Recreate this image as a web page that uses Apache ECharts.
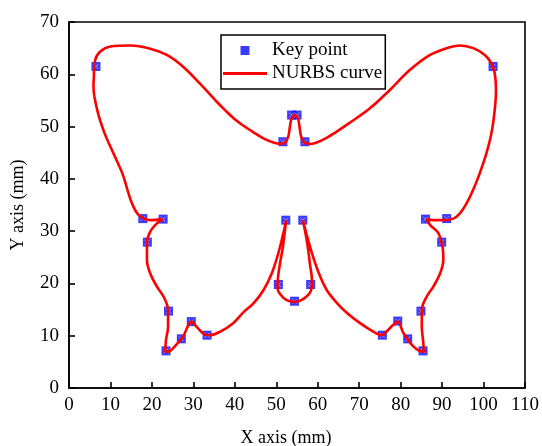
<!DOCTYPE html>
<html>
<head>
<meta charset="utf-8">
<script src="https://cdn.jsdelivr.net/npm/echarts@6/dist/echarts.min.js"></script>
<style>
html,body{margin:0;padding:0;background:#fff;}
#chart{width:542px;height:446px;}
</style>
</head>
<body>
<div id="chart"></div>
<script>
// Key points (mm)
const keyX = [6.5, 17.8, 22.7, 18.9, 24.0, 23.4, 27.1, 29.5, 33.3, 52.3, 50.5, 54.4, 58.3, 56.4, 75.6, 79.3, 81.7, 85.4, 84.9, 89.9, 86.0, 91.1, 102.3, 51.6, 53.7, 55.0, 56.9];
const keyY = [61.5, 32.4, 32.3, 27.9, 14.7, 7.1, 9.4, 12.7, 10.1, 32.1, 19.8, 16.6, 19.8, 32.1, 10.1, 12.8, 9.4, 7.1, 14.7, 27.9, 32.3, 32.4, 61.5, 47.1, 52.2, 52.2, 47.1];

// NURBS curve (mm)
const curveX = [6.0, 6.3, 7.5, 10.0, 14.8, 19.6, 23.6, 27.6, 31.6, 35.7, 37.7, 39.7, 42.0, 44.5, 47.0, 49.5, 51.0, 52.2, 52.9, 53.3, 53.7, 54.4, 55.2, 55.6, 56.0, 56.7, 58.3, 61.3, 64.3, 67.5, 72.6, 77.4, 82.2, 87.1, 91.1, 94.3, 97.5, 100.3, 101.9, 102.7, 103.0, 102.7, 101.9, 100.7, 99.1, 97.5, 95.9, 94.3, 92.7, 90.3, 87.9, 86.3,
  87.1, 89.1, 90.1, 90.3, 89.5, 87.9, 86.3, 85.1, 85.1, 85.4, 85.6, 84.5, 83.0, 81.7, 80.5, 79.3, 78.1, 76.6, 75.4, 73.4, 70.2, 67.0, 64.6, 62.2, 60.3, 58.6, 57.3, 56.4,
  56.9, 57.6, 58.1, 58.6, 58.4, 57.3, 55.7, 54.1, 52.5, 51.1, 50.3, 50.4, 50.9, 51.6, 52.1, 52.4,
  51.7, 50.5, 48.9, 46.9, 44.5, 42.1, 39.6, 36.5, 34.0, 32.6, 30.8, 29.5, 28.6, 27.5, 26.0, 24.4, 23.2, 23.4, 23.9, 23.9, 22.8, 21.2, 19.6, 18.8, 18.8, 19.6, 21.2, 22.6,
  19.6, 16.8, 15.2, 14.1, 12.9, 11.0, 8.6, 6.8, 5.9, 6.0];
const curveY = [59.5, 62.7, 64.3, 65.3, 65.5, 64.9, 63.7, 61.4, 58.2, 54.7, 53.1, 51.6, 50.2, 48.9, 47.7, 46.9, 46.7, 47.0, 48.1, 50.0, 51.6, 52.2, 51.6, 50.0, 48.1, 47.0, 46.7, 47.5, 48.9, 50.6, 53.5, 57.0, 60.8, 63.7, 65.0, 65.5, 65.0, 63.7, 62.1, 60.2, 57.0, 53.2, 48.7, 44.9, 41.1, 37.9, 35.3, 33.4, 32.4, 32.1, 32.1, 32.3,
  31.2, 29.6, 27.0, 24.5, 21.9, 19.4, 17.5, 14.9, 11.7, 9.2, 6.9, 7.1, 8.0, 9.3, 10.8, 12.7, 12.0, 10.8, 10.1, 10.8, 12.4, 14.4, 16.3, 18.7, 21.9, 25.8, 29.4, 32.1,
  30.2, 27.0, 23.8, 20.7, 18.7, 17.5, 16.7, 16.5, 16.8, 17.8, 19.1, 21.0, 23.8, 27.0, 30.2, 32.1,
  29.6, 25.8, 21.9, 18.7, 16.2, 14.5, 12.4, 10.8, 10.1, 10.3, 11.7, 12.7, 11.7, 9.8, 8.4, 7.1, 6.9, 9.2, 11.7, 14.9, 17.5, 19.4, 21.9, 24.5, 27.7, 29.9, 31.5, 32.3,
  32.1, 33.1, 35.3, 37.9, 41.0, 44.4, 48.7, 53.2, 57.6, 59.5];

const xTicks = [0, 10, 20, 30, 40, 50, 60, 70, 80, 90, 100, 110];
const yTicks = [0, 10, 20, 30, 40, 50, 60, 70];

const keyData = keyX.map((x, i) => [x, keyY[i]]);
const curveData = curveX.map((x, i) => [x, curveY[i]]);

const FONT = '"Liberation Serif", "Times New Roman", serif';
const SQUARE = 'path://M0,0H10V10H0Z';
const LINE_ICON = 'path://M0,0H44V3H0Z';

const chart = echarts.init(document.getElementById('chart'), null, {renderer: 'canvas'});
const axisCommon = {
  axisLine: {show: true, onZero: false, lineStyle: {color: '#000', width: 1.6}},
  axisTick: {show: true, inside: true, length: 6, lineStyle: {color: '#000', width: 1.6}},
  splitLine: {show: false},
  nameLocation: 'middle'
};
chart.setOption({
  animation: false,
  backgroundColor: '#fff',
  textStyle: {fontFamily: FONT},
  grid: {left: 69, right: 17, top: 22, bottom: 58, show: true, borderColor: '#000', borderWidth: 1.6, containLabel: false, outerBoundsMode: 'none'},
  legend: {
    orient: 'vertical',
    left: 221, top: 35,
    padding: [6, 3, 6, 2],
    itemWidth: 44, itemHeight: 9, itemGap: 4,
    borderColor: '#000', borderWidth: 1.5,
    backgroundColor: '#fff',
    textStyle: {fontFamily: FONT, fontSize: 19, color: '#000'},
    data: [{name: 'Key point', icon: SQUARE}, {name: 'NURBS curve', icon: LINE_ICON, itemStyle: {color: '#ff0000'}}]
  },
  xAxis: Object.assign({}, axisCommon, {
    type: 'value', min: xTicks[0], max: xTicks[xTicks.length - 1], interval: 10,
    name: 'X axis (mm)', nameGap: 41,
    nameTextStyle: {fontFamily: FONT, fontSize: 18, color: '#000', padding: [0, 22, 0, 0]},
    axisLabel: {fontFamily: FONT, fontSize: 19, color: '#000', margin: 8}
  }),
  yAxis: Object.assign({}, axisCommon, {
    type: 'value', min: yTicks[0], max: yTicks[yTicks.length - 1], interval: 10,
    name: 'Y axis (mm)', nameGap: 42,
    nameTextStyle: {fontFamily: FONT, fontSize: 18, color: '#000'},
    axisLabel: {fontFamily: FONT, fontSize: 19, color: '#000', margin: 10}
  }),
  series: [
    {
      name: 'Key point', type: 'scatter', data: keyData,
      symbol: SQUARE, symbolSize: 9,
      itemStyle: {color: '#0a0aff'}, z: 2
    },
    {
      name: 'marks', type: 'scatter', data: keyData, silent: true,
      symbol: 'path://M0,0L10,10M10,0L0,10', symbolSize: 5,
      itemStyle: {color: 'none', borderColor: '#a8b4ff', borderWidth: 1}, z: 3
    },
    {
      name: 'NURBS curve', type: 'line', data: curveData,
      symbol: 'none', smooth: 0.35,
      lineStyle: {color: '#ff0000', width: 2.6},
      itemStyle: {color: '#ff0000'}, z: 4
    }
  ]
});
</script>
</body>
</html>
